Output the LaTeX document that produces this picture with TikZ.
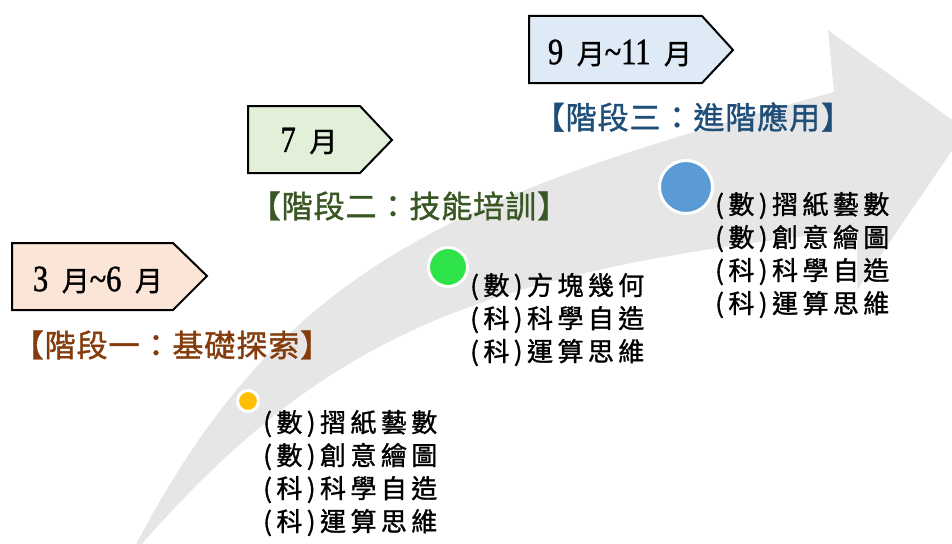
\documentclass[tikz,border=0pt]{standalone}
\usepackage{fontspec}
\setmainfont{Liberation Serif}
\newfontfamily\cjk[FakeBold=1.2]{Noto Sans CJK TC}
\newfontfamily\cjklbl[LetterSpace=3,FakeBold=1.2]{Noto Sans CJK TC}
\newfontfamily\cjksp[LetterSpace=17,FakeBold=1.2]{Noto Sans CJK TC}
\newfontfamily\digitfont[FakeStretch=0.82,FakeBold=1.2]{Liberation Serif}
\definecolor{arrowgray}{HTML}{E7E6E6}
\definecolor{peach}{HTML}{FBE5D6}
\definecolor{palegreen}{HTML}{E2F0D9}
\definecolor{paleblue}{HTML}{DEEBF7}
\definecolor{brownlbl}{HTML}{843C0C}
\definecolor{greenlbl}{HTML}{385723}
\definecolor{bluelbl}{HTML}{1F4E79}
\definecolor{dotyellow}{HTML}{FFC000}
\definecolor{dotgreen}{HTML}{2EE24A}
\definecolor{dotblue}{HTML}{5B9BD5}
\tikzset{
  monthbox/.style={draw=black, line width=2pt, line join=miter},
  monthtext/.style={inner sep=0, font=\digitfont\fontsize{37}{37}\selectfont},
  stagelbl/.style={inner sep=0, font=\cjklbl\fontsize{31}{31}\selectfont},
  dot/.style={circle, draw=white, line width=3pt, inner sep=0},
  item/.style={inner sep=0, anchor=base west, font=\cjksp\fontsize{26}{26}\selectfont}
}
\newcommand{\yue}{\hspace{6pt}{\cjk\fontsize{28}{28}\selectfont 月}}
\begin{document}
\begin{tikzpicture}[x=1pt,y=-1pt]
\useasboundingbox (0,0) rectangle (952,543);
\clip (0,0) rectangle (952,543);
% curved arrow
\fill[arrowgray] (128,560) .. controls (277,266) and (448,198) .. (834,92)
  -- (828,30) -- (966,130) -- (857,290) -- (857,230)
  .. controls (479,272) and (323,332) .. (128,560) -- cycle;
% month boxes
\draw[monthbox, fill=peach] (12,243) -- (173,243) -- (207,276) -- (173,310) -- (12,310) -- cycle;
\draw[monthbox, fill=palegreen] (248,106) -- (360,106) -- (392,140) -- (360,173) -- (248,173) -- cycle;
\draw[monthbox, fill=paleblue] (529,16) -- (702,16) -- (733,50) -- (702,83) -- (529,83) -- cycle;
\node[monthtext] (m1) at (98,280) {3 \yue\textasciitilde 6 \yue};
\node[monthtext] (m2) at (309,141) {7 \yue};
\node[monthtext] (m3) at (620,53) {9 \yue\textasciitilde 11 \yue};
% stage labels
\node[stagelbl, text=brownlbl] (s1) at (172,345) {【階段一：基礎探索】};
\node[stagelbl, text=greenlbl] (s2) at (409,206) {【階段二：技能培訓】};
\node[stagelbl, text=bluelbl] (s3) at (693,117) {【階段三：進階應用】};
% dots
\node[dot, fill=dotyellow, minimum size=21] (d1) at (248,401) {};
\node[dot, fill=dotgreen, minimum size=39] (d2) at (448,267) {};
\node[dot, fill=dotblue, minimum size=53] (d3) at (686,187) {};
% items
\node[item] (a1) at (263,432) {(數)摺紙藝數};
\node[item] (a2) at (263,465) {(數)創意繪圖};
\node[item] (a3) at (263,498) {(科)科學自造};
\node[item] (a4) at (263,531) {(科)運算思維};
\node[item] (b1) at (470,295) {(數)方塊幾何};
\node[item] (b2) at (470,328) {(科)科學自造};
\node[item] (b3) at (470,361) {(科)運算思維};
\node[item] (c1) at (715,214) {(數)摺紙藝數};
\node[item] (c2) at (715,247) {(數)創意繪圖};
\node[item] (c3) at (715,280) {(科)科學自造};
\node[item] (c4) at (715,313) {(科)運算思維};
\end{tikzpicture}
\end{document}
